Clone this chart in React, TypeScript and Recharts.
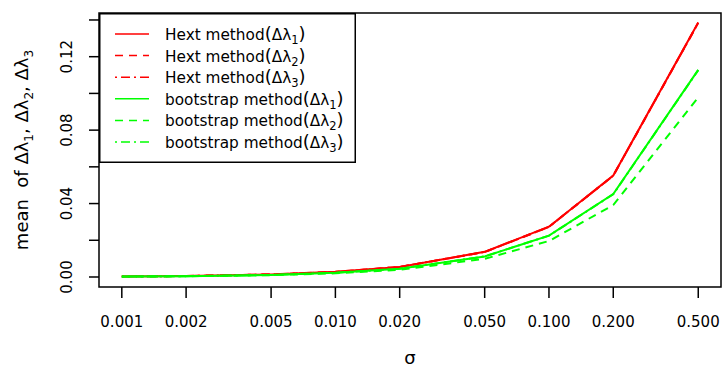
import React from 'react'
import { Legend, Line, LineChart, ReferenceArea, XAxis, YAxis } from 'recharts'

// sigma values (log x axis)
const sigma = [0.001, 0.002, 0.005, 0.01, 0.02, 0.05, 0.1, 0.2, 0.5]
const sigmaLabels = ['0.001', '0.002', '0.005', '0.010', '0.020', '0.050', '0.100', '0.200', '0.500']

// mean of delta lambda, Hext method
const hext1 = [0.00028, 0.00056, 0.0014, 0.0028, 0.0055, 0.0137, 0.0274, 0.0553, 0.1386]
const hext2 = [0.00028, 0.00055, 0.0014, 0.0028, 0.0055, 0.0136, 0.0273, 0.0552, 0.1385]
const hext3 = [0.00028, 0.00055, 0.0014, 0.0027, 0.0055, 0.0136, 0.0273, 0.0552, 0.1384]

// mean of delta lambda, bootstrap method
const boot1 = [0.00023, 0.00045, 0.0011, 0.0023, 0.0045, 0.0112, 0.0225, 0.0452, 0.1128]
const boot2 = [0.0002, 0.0004, 0.001, 0.002, 0.0039, 0.0099, 0.0196, 0.0392, 0.0978]
const boot3 = [0.00023, 0.00045, 0.0011, 0.0023, 0.0045, 0.0112, 0.0225, 0.0451, 0.1127]

const yTicks = [0, 0.02, 0.04, 0.06, 0.08, 0.1, 0.12, 0.14]
const yLabelled = [0, 0.04, 0.08, 0.12]

const data = sigma.map((s, i) => ({
  sigma: s,
  hext1: hext1[i],
  hext2: hext2[i],
  hext3: hext3[i],
  boot1: boot1[i],
  boot2: boot2[i],
  boot3: boot3[i],
}))

const RED = '#ff0000'
const GREEN = '#00ff00'
const DASH = '8 6'
const DOTDASH = '2 4 9 4'

const series = [
  { key: 'hext1', method: 'Hext method', sub: '1', color: RED, dash: undefined },
  { key: 'hext2', method: 'Hext method', sub: '2', color: RED, dash: DASH },
  { key: 'hext3', method: 'Hext method', sub: '3', color: RED, dash: DOTDASH },
  { key: 'boot1', method: 'bootstrap method', sub: '1', color: GREEN, dash: undefined },
  { key: 'boot2', method: 'bootstrap method', sub: '2', color: GREEN, dash: DASH },
  { key: 'boot3', method: 'bootstrap method', sub: '3', color: GREEN, dash: DOTDASH },
]

const FONT = 'DejaVu Sans'

const XTick = (props: any) => {
  const { x, y, payload } = props
  const i = sigma.indexOf(payload.value)
  return (
    <text x={x} y={y + 27} textAnchor="middle" fontSize={15} fill="#000">
      {sigmaLabels[i]}
    </text>
  )
}

const YTick = (props: any) => {
  const { x, y, payload } = props
  if (!yLabelled.some((v) => Math.abs(v - payload.value) < 1e-9)) return null
  const tx = x - 15
  return (
    <text
      x={tx}
      y={y}
      textAnchor="middle"
      fontSize={15}
      fill="#000"
      transform={`rotate(-90, ${tx}, ${y})`}
    >
      {payload.value.toFixed(2)}
    </text>
  )
}

const YLabel = (props: any) => {
  const vb = props.viewBox
  const cx = 28
  const cy = vb.y + vb.height / 2
  return (
    <text x={cx} y={cy} textAnchor="middle" fontSize={18} fill="#000" transform={`rotate(-90, ${cx}, ${cy})`}>
      {'mean\u00a0 of \u0394\u03bb'}
      <tspan dy={5} fontSize={12}>1</tspan>
      <tspan dy={-5}>, {'\u0394\u03bb'}</tspan>
      <tspan dy={5} fontSize={12}>2</tspan>
      <tspan dy={-5}>, {'\u0394\u03bb'}</tspan>
      <tspan dy={5} fontSize={12}>3</tspan>
    </text>
  )
}

const XLabel = (props: any) => {
  const vb = props.viewBox
  return (
    <text x={vb.x + vb.width / 2} y={364} textAnchor="middle" fontSize={18} fill="#000">
      σ
    </text>
  )
}

const LegendBox = () => (
  <svg width={257} height={150} style={{ display: 'block' }}>
    <rect x={0.75} y={0.75} width={255.5} height={148.5} fill="#fff" stroke="#000" strokeWidth={1.5} />
    {series.map((s, i) => {
      const cy = 21 + i * 21.6
      return (
        <g key={s.key}>
          <line x1={16} x2={50} y1={cy} y2={cy} stroke={s.color} strokeWidth={1.5} strokeDasharray={s.dash} />
          <text x={66} y={cy + 6} fontSize={15.3} fill="#000" fontFamily={FONT}>
            {s.method}
            <tspan fontSize={18}>(</tspan>Δλ
            <tspan dy={4} fontSize={11.5}>{s.sub}</tspan>
            <tspan dy={-4} fontSize={18}>)</tspan>
          </text>
        </g>
      )
    })}
  </svg>
)

export default function App() {
  return (
    <div style={{ position: 'absolute', left: 0, top: 0 }}>
      <LineChart
        width={724}
        height={371}
        data={data}
        margin={{ top: 13, right: 3, bottom: 0, left: 10 }}
        style={{ fontFamily: FONT }}
      >
        <XAxis
          dataKey="sigma"
          type="number"
          scale="log"
          domain={[0.000782, 0.639]}
          allowDataOverflow
          ticks={sigma}
          interval={0}
          height={84}
          axisLine={false}
          tickSize={11}
          tickLine={{ stroke: '#000', strokeWidth: 1.5 }}
          tick={<XTick />}
          label={<XLabel />}
        />
        <YAxis
          type="number"
          domain={[-0.00545, 0.1438]}
          allowDataOverflow
          ticks={yTicks}
          interval={0}
          width={89}
          axisLine={false}
          tickSize={10}
          tickLine={{ stroke: '#000', strokeWidth: 1.5 }}
          tick={<YTick />}
          label={<YLabel />}
        />
        <ReferenceArea
          x1={0.000782}
          x2={0.639}
          y1={-0.00545}
          y2={0.1438}
          fill="none"
          fillOpacity={0}
          stroke="#000"
          strokeWidth={1.5}
          ifOverflow="visible"
        />
        {series.map((s) => (
          <Line
            key={s.key}
            dataKey={s.key}
            type="linear"
            stroke={s.color}
            strokeWidth={2}
            strokeDasharray={s.dash}
            dot={false}
            activeDot={false}
            isAnimationActive={false}
          />
        ))}
        <Legend
          layout="vertical"
          align="center"
          verticalAlign="middle"
          wrapperStyle={{ left: 99, top: 13, width: 257, height: 150 }}
          content={<LegendBox />}
        />
      </LineChart>
    </div>
  )
}
